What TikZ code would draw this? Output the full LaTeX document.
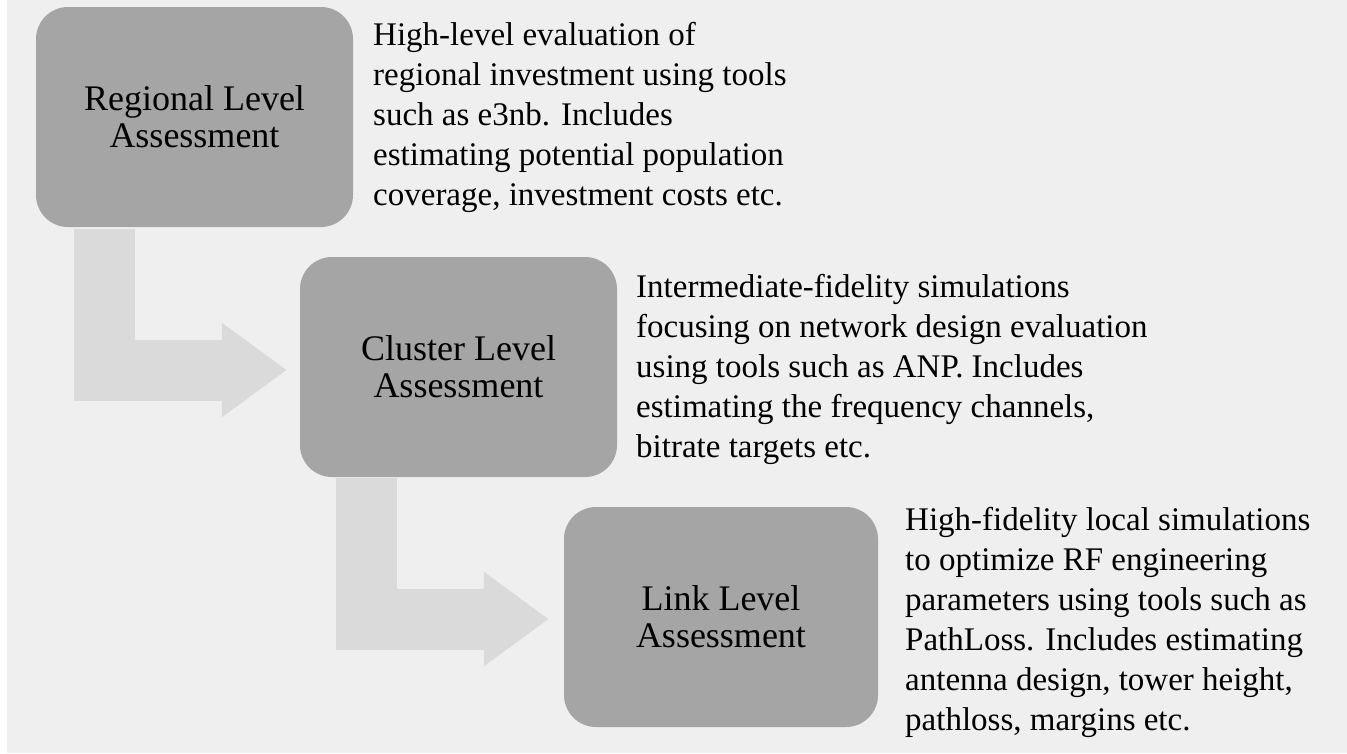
\documentclass[tikz,border=0pt]{standalone}
\usepackage{fontspec}
\setmainfont{Liberation Serif}
\usetikzlibrary{arrows.meta}
\definecolor{bggray}{HTML}{EFEFEF}
\definecolor{boxgray}{HTML}{A5A5A5}
\definecolor{arrowgray}{HTML}{DADADA}
\tikzset{
  levelbox/.style={shape=rectangle,rounded corners=32pt,fill=boxgray,
    minimum width=317pt,minimum height=220pt,align=center,inner sep=0,
    font=\fontsize{36}{37}\selectfont},
  notetext/.style={anchor=north west,align=left,inner sep=0,
    font=\fontsize{33}{40}\selectfont},
  bentarrow/.style={draw=arrowgray,line width=61pt,line join=miter,
    -{Triangle[length=65pt,width=90pt]}}
}
\begin{document}
\begin{tikzpicture}[x=1pt,y=-1pt]
%background
\fill[white](0,0)rectangle(1347,753);
\fill[bggray](7,0)rectangle(1347,753);
%assessment levels
\node[levelbox](reg)at(194.5,117){Regional Level\\Assessment};
\node[levelbox](clu)at(458.5,367){Cluster Level\\Assessment};
\node[levelbox,minimum width=314pt](lnk)at(721,617){Link Level\\Assessment};
%bent arrows
\draw[bentarrow]([xshift=-90.5pt,yshift=-2pt]reg.south)|-([xshift=-13pt,yshift=-3pt]clu.west);
\draw[bentarrow]([xshift=-92pt,yshift=-1pt]clu.south)|-([xshift=-15pt,yshift=-2pt]lnk.west);
%descriptions
\node[notetext](regtxt)at(373,22){High-level evaluation of\\regional investment using tools\\such as e3nb. Includes\\estimating potential population\\coverage, investment costs etc.};
\node[notetext](clutxt)at(636,274){Intermediate-fidelity simulations\\focusing on network design evaluation\\using tools such as ANP. Includes\\estimating the frequency channels,\\bitrate targets etc.};
\node[notetext](lnktxt)at(905,507){High-fidelity local simulations\\to optimize RF engineering\\parameters using tools such as\\PathLoss. Includes estimating\\antenna design, tower height,\\pathloss, margins etc.};
\end{tikzpicture}
\end{document}
